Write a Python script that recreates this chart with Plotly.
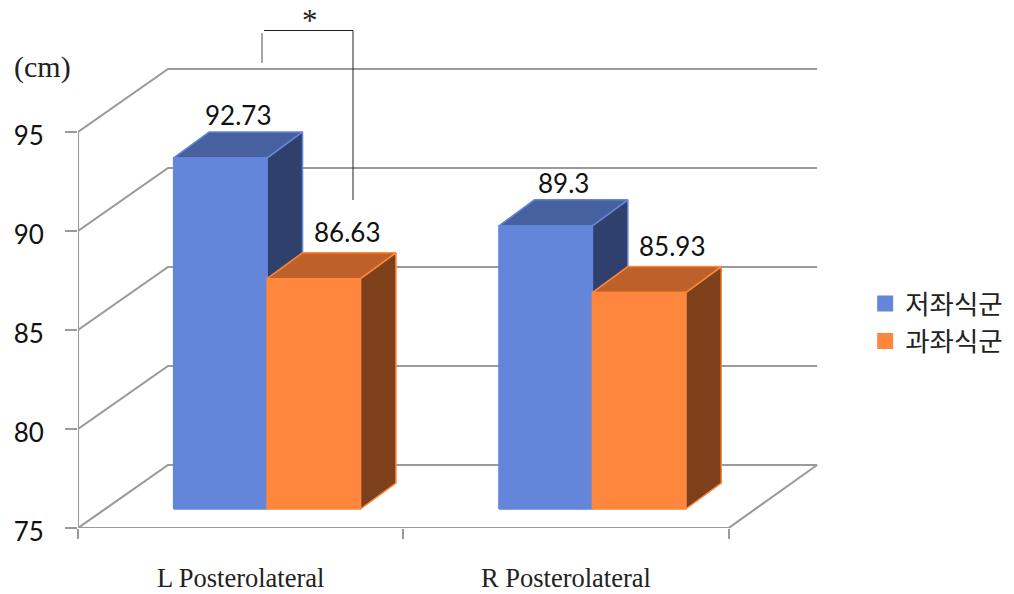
import plotly.graph_objects as go

# Chart data
categories = ["L Posterolateral", "R Posterolateral"]
series_names = ["저좌식군", "과좌식군"]
low_sitting = [92.73, 89.3]
high_sitting = [86.63, 85.93]
y_ticks = [75, 80, 85, 90, 95]

# Pixel scale of the front plane of the oblique box
X0_PX, Y0_PX = 78, 528
PX_PER_CAT, PX_PER_UNIT = 325.3, 19.8
WIDTH, HEIGHT = 1014, 594

WALL_DX, WALL_DY = 90, 63      # depth of the room
WALL_END_DX = 88.5             # horizontal run of the right-hand floor edge
BAR_SHIFT_X, BAR_SHIFT_Y = 26.4, 19   # where the bars' front faces sit
BAR_DX, BAR_DY = 35.5, 26      # depth of each bar
BAR_W = 93.4

GRID = "#9a9a9a"
BLUE = dict(front="#6386DA", top="#47609E", side="#2F406C", edge="#6386DA")
ORANGE = dict(front="#FF873D", top="#BE6029", side="#7D401A", edge="#FF873D")
LABEL_FONT = "Lato, sans-serif"
SERIF = "Liberation Serif, serif"
KR_FONT = "Noto Sans CJK KR, sans-serif"


def ux(dx_px):
    return dx_px / PX_PER_CAT


def uy(dy_px):
    return dy_px / PX_PER_UNIT


def px_x(p):
    return (p - X0_PX) / PX_PER_CAT


def px_y(p):
    return 75 + (Y0_PX - p) / PX_PER_UNIT


fig = go.Figure()


def line(xs, ys, color=GRID, width=2.1):
    fig.add_trace(go.Scatter(x=xs, y=ys, mode="lines", showlegend=False, hoverinfo="skip",
                             line=dict(color=color, width=width)))


def face(xs, ys, fill, edge=None):
    fig.add_trace(go.Scatter(x=xs + xs[:1], y=ys + ys[:1], mode="lines", fill="toself",
                             fillcolor=fill, showlegend=False, hoverinfo="skip",
                             line=dict(color=edge or fill, width=1.5)))


# Left wall, back wall and floor
n_cat = len(categories)
wx, wy = ux(WALL_DX), uy(WALL_DY)
we = ux(WALL_END_DX)
for v in y_ticks:
    line([0, wx, n_cat + we], [v, v + wy, v + wy])
line([0, 0], [y_ticks[0], y_ticks[-1]])
line([0, n_cat, n_cat + we], [75, 75, 75 + wy])


def draw_bar(cat_index, value, side, colors):
    """Front, top and side faces of one oblique bar."""
    x_left = cat_index + 0.5 + ux(BAR_SHIFT_X) + (0 if side else -ux(BAR_W))
    x_right = x_left + ux(BAR_W)
    y_base = 75 + uy(BAR_SHIFT_Y)
    y_top = value + uy(BAR_SHIFT_Y)
    dx, dy = ux(BAR_DX), uy(BAR_DY)
    face([x_right, x_right + dx, x_right + dx, x_right],
         [y_base, y_base + dy, y_top + dy, y_top], colors["side"], colors["edge"])
    face([x_left, x_left + dx, x_right + dx, x_right],
         [y_top, y_top + dy, y_top + dy, y_top], colors["top"], colors["edge"])
    face([x_left, x_right, x_right, x_left],
         [y_base, y_base, y_top, y_top], colors["front"])


for i in range(n_cat):
    draw_bar(i, low_sitting[i], 0, BLUE)
    draw_bar(i, high_sitting[i], 1, ORANGE)

# Legend entries
for name, colors in zip(series_names, (BLUE, ORANGE)):
    fig.add_trace(go.Scatter(x=[None], y=[None], mode="markers", name=name,
                             marker=dict(symbol="square", size=16, color=colors["front"])))

# Value labels above each bar
annotations = []
for i in range(n_cat):
    for values, side, shift_x, shift_y in ((low_sitting, 0, 0, -1), (high_sitting, 1, 15, 3)):
        v = values[i]
        cx = i + 0.5 + ux(BAR_SHIFT_X) + ux((BAR_W + BAR_DX) / 2) - (0 if side else ux(BAR_W))
        annotations.append(dict(
            x=cx, y=v + uy(BAR_SHIFT_Y + BAR_DY), xref="x", yref="y", text=f"{v}",
            showarrow=False, xanchor="center", yanchor="bottom", xshift=shift_x, yshift=shift_y,
            font=dict(family=LABEL_FONT, size=26, color="#111111")))

# Unit label sits left of the plot area, so it is placed in paper coordinates
plot_w = WIDTH - X0_PX
annotations.append(dict(x=(42 - X0_PX) / plot_w, y=1 - 67 / Y0_PX, xref="paper", yref="paper",
                        xanchor="center", yanchor="middle", text="(cm)", showarrow=False,
                        font=dict(family=SERIF, size=30, color="#222222")))
annotations.append(dict(x=px_x(310), y=px_y(20), xref="x", yref="y", text="*", showarrow=False,
                        font=dict(family=SERIF, size=31, color="#222222")))

# Significance bracket
shapes = [
    dict(type="line", xref="x", yref="y", x0=px_x(262), x1=px_x(262), y0=px_y(33), y1=px_y(63),
         line=dict(color="#777777", width=1.3)),
    dict(type="line", xref="x", yref="y", x0=px_x(264), x1=px_x(353), y0=px_y(30.5), y1=px_y(30.5),
         line=dict(color="#222222", width=1)),
    dict(type="line", xref="x", yref="y", x0=px_x(353), x1=px_x(353), y0=px_y(30.5), y1=px_y(200),
         line=dict(color="#222222", width=1)),
]

fig.update_layout(
    width=WIDTH, height=HEIGHT, margin=dict(l=X0_PX, r=0, t=0, b=HEIGHT - Y0_PX),
    paper_bgcolor="white", plot_bgcolor="white", annotations=annotations, shapes=shapes,
    legend=dict(x=0.841, y=0.47, xanchor="left", yanchor="top", bgcolor="rgba(0,0,0,0)",
                font=dict(family=KR_FONT, size=26.5, color="#222222"), itemclick=False),
    xaxis=dict(range=[0, (WIDTH - X0_PX) / PX_PER_CAT], showgrid=False, zeroline=False, showline=False,
               tickmode="array", tickvals=[i + 0.5 for i in range(n_cat)], ticktext=categories,
               ticks="outside", ticklen=0, ticklabelstandoff=26,
               tickfont=dict(family=SERIF, size=26.5, color="#222222"),
               minor=dict(tickmode="array", tickvals=list(range(n_cat + 1)), ticks="outside",
                          ticklen=10, tickwidth=2.1, tickcolor=GRID, showgrid=False)),
    yaxis=dict(range=[75, 75 + Y0_PX / PX_PER_UNIT], showgrid=False, zeroline=False, showline=False,
               tickmode="array", tickvals=y_ticks, ticks="outside", ticklen=12, tickwidth=2.1,
               tickcolor=GRID, ticklabelstandoff=16, ticklabelshift=4,
               tickfont=dict(family=LABEL_FONT, size=26, color="#111111")),
)

fig.write_html("out.html")
